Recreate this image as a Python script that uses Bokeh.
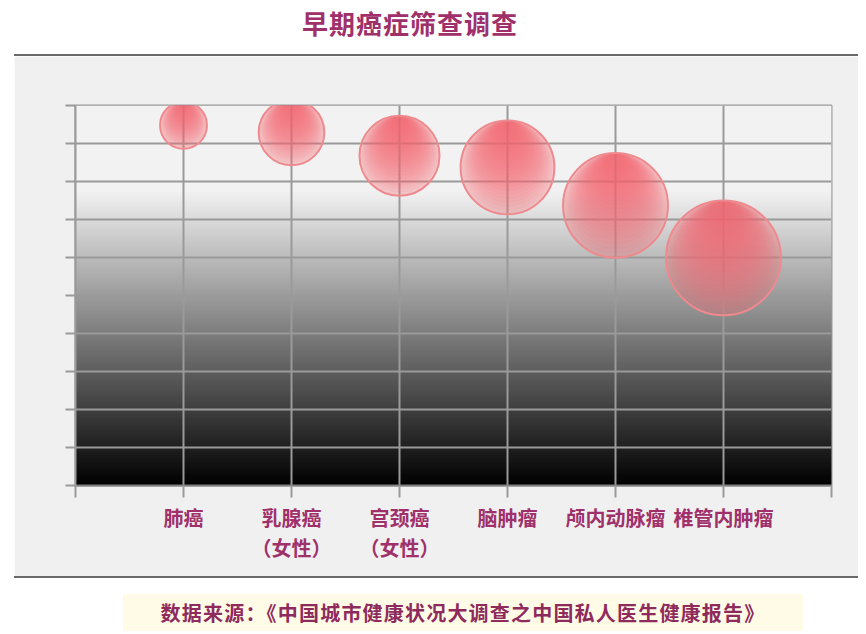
import math
from bokeh.plotting import figure
from bokeh.models import (ColumnDataSource, LinearAxis, FixedTicker, Grid,
                          Div, CustomJSTickFormatter)
from bokeh.layouts import column
from bokeh.embed import file_html
from bokeh.resources import INLINE

# ---------------- data ----------------
title_text = "早期癌症筛查调查"
source_text = "数据来源：《中国城市健康状况大调查之中国私人医生健康报告》"
categories = ["肺癌", "乳腺癌\n（女性）", "宫颈癌\n（女性）", "脑肿瘤", "颅内动脉瘤", "椎管内肿瘤"]
y_values = [94.8, 92.9, 86.8, 83.7, 73.7, 59.9]
bubble_values = [22, 43, 64, 88, 110, 132]
y_ticks = list(range(0, 101, 10))

# ---------------- layout constants ----------------
W, H = 844, 520
ML, MR, MT, MB = 61, 27, 49, 91
X0, X1 = 0, len(categories) + 1
Y0, Y1 = 0, 100
px_per_y = (H - MT - MB) / (Y1 - Y0)
CJK = "Noto Sans CJK SC"
TXT = "#a0306a"
RED = "#f56a70"

x_pos = list(range(1, len(categories) + 1))
diam = [math.sqrt(v) * 10 for v in bubble_values]

p = figure(width=W, height=H, x_range=(X0, X1), y_range=(Y0, Y1),
           x_axis_type=None, y_axis_type=None,
           output_backend="svg", toolbar_location=None,
           min_border_left=ML, min_border_right=MR,
           min_border_top=MT, min_border_bottom=MB)
p.margin = (0, 0, 0, 6)
p.background_fill_color = "#f2f2f2"
p.border_fill_color = "#f0f0f0"
p.outline_line_color = "#9a9a9a"
p.outline_line_width = 2

# background vertical gradient (white at top -> black at bottom)
n = 190
step = (Y1 - Y0) / n
fade_top = 77.6
bots, tops, cols = [], [], []
for i in range(n):
    b = Y0 + i * step
    mid = b + step / 2
    g = int(round(min(242, 242 * mid / fade_top)))
    bots.append(b)
    tops.append(min(Y1, b + step * 1.6))
    cols.append("#%02x%02x%02x" % (g, g, g))
bg = p.quad(left=X0, right=X1, bottom=bots, top=tops,
            fill_color=cols, line_color=None)
bg.level = "image"

# grids
p.add_layout(Grid(dimension=0, ticker=FixedTicker(ticks=x_pos),
                  grid_line_color="#9a9a9a", grid_line_width=2))
p.add_layout(Grid(dimension=1, ticker=FixedTicker(ticks=y_ticks),
                  grid_line_color="#9a9a9a", grid_line_width=2))

empty = CustomJSTickFormatter(code="return ''")
yaxis = LinearAxis(ticker=FixedTicker(ticks=y_ticks), formatter=empty,
                   major_tick_in=0, major_tick_out=10,
                   minor_tick_line_color=None,
                   axis_line_color="#9a9a9a", axis_line_width=2,
                   major_tick_line_color="#9a9a9a", major_tick_line_width=2)
p.add_layout(yaxis, "left")

x_ticks = list(range(X0, X1 + 1))
overrides = {i: "" for i in x_ticks}
for xp, c in zip(x_pos, categories):
    overrides[xp] = c
xaxis = LinearAxis(ticker=FixedTicker(ticks=x_ticks),
                   major_label_overrides=overrides,
                   major_tick_in=0, major_tick_out=12,
                   minor_tick_line_color=None,
                   axis_line_color="#808080", axis_line_width=2,
                   major_tick_line_color="#9a9a9a", major_tick_line_width=2,
                   major_label_standoff=5,
                   major_label_text_font=CJK, major_label_text_font_style="bold",
                   major_label_text_font_size="20px", major_label_text_color=TXT,
                   major_label_text_line_height=1.05)
p.add_layout(xaxis, "below")

# bubbles: layered, top-tangent circles for a vertical fade
N = 24
for k in range(N):
    frac = 1 - k / N
    ys = [y + (d / 2) * (1 - frac) / px_per_y for y, d in zip(y_values, diam)]
    sz = [d * frac for d in diam]
    p.scatter(x=x_pos, y=ys, size=sz, marker="circle",
              fill_color=RED, fill_alpha=(0.34 if k == 0 else 0.085),
              line_color=None)
src = ColumnDataSource(dict(x=x_pos, y=y_values, size=diam, cat=categories))
p.scatter(x="x", y="y", size="size", marker="circle", source=src,
          fill_color=None, line_color="#ee8a8e", line_width=2)

title_div = Div(text=(
    f'<div style="width:804px;height:46px;text-align:center;font-family:\'{CJK}\';'
    f'font-weight:bold;font-size:26px;letter-spacing:1px;line-height:30px;color:{TXT}">'
    f'{title_text}</div>'
    '<div style="margin-left:6px;width:844px;height:2px;background:#6a6a6a"></div>'),
    width=850, height=48, margin=(0, 0, 0, 0))

src_div = Div(text=(
    '<div style="margin-left:6px;width:844px;height:2px;background:#6a6a6a"></div>'
    f'<div style="margin-left:115px;margin-top:16px;width:680px;height:37px;'
    f'background:#fffbe6;text-align:center;line-height:37px;font-family:\'{CJK}\';'
    f'font-weight:bold;font-size:20px;letter-spacing:1.2px;color:#8e2a5c">{source_text}</div>'),
    width=850, height=56, margin=(0, 0, 0, 0))

layout = column(title_div, p, src_div, spacing=0, margin=(8, 0, 0, 8))
open("out.html", "w").write(file_html(layout, INLINE))
